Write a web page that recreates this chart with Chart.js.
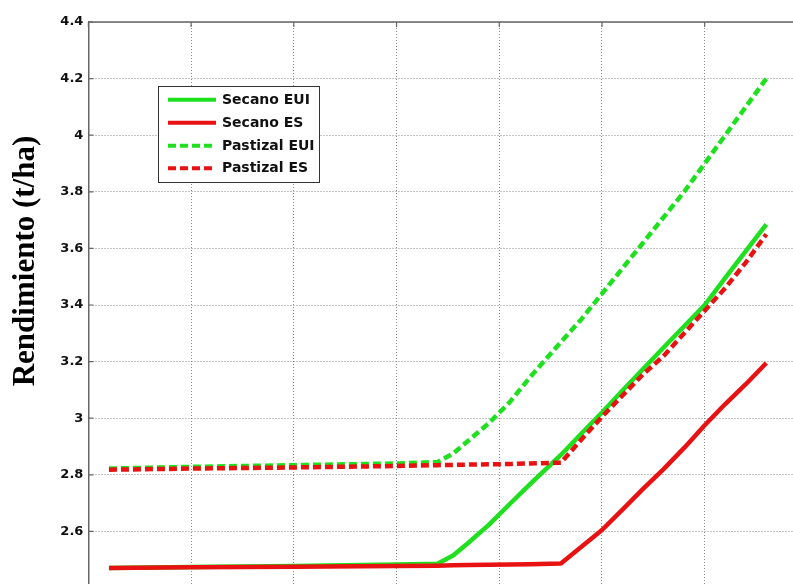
<!DOCTYPE html>
<html>
<head>
<meta charset="utf-8">
<script src="https://cdn.jsdelivr.net/npm/chart.js@4/dist/chart.umd.min.js"></script>
<style>
  html, body { margin: 0; padding: 0; background: #fff; overflow: hidden; width: 793px; height: 584px; }
  #wrap { position: absolute; left: 0; top: 0; width: 840px; height: 640px; }
</style>
</head>
<body>
<div id="wrap"><canvas id="chart" width="840" height="640"></canvas></div>
<script>
// Sample positions along the horizontal axis
const xPositions = [0.2, 1, 2, 3, 3.4, 3.55, 3.7, 3.9, 4.1, 4.3, 4.6, 4.8, 5.0, 5.2, 5.4, 5.6, 5.8, 6.0, 6.2, 6.4, 6.6];

// Yield (t/ha) for each scenario
const secanoEUI   = [2.471, 2.474, 2.478, 2.483, 2.486, 2.515, 2.560, 2.624, 2.696, 2.767, 2.870, 2.946, 3.020, 3.098, 3.174, 3.250, 3.325, 3.400, 3.496, 3.590, 3.685];
const secanoES    = [2.471, 2.473, 2.475, 2.478, 2.479, 2.480, 2.481, 2.482, 2.483, 2.484, 2.487, 2.546, 2.605, 2.677, 2.750, 2.820, 2.895, 2.975, 3.050, 3.120, 3.195];
const pastizalEUI = [2.822, 2.828, 2.834, 2.840, 2.845, 2.875, 2.921, 2.983, 3.056, 3.145, 3.269, 3.350, 3.440, 3.530, 3.620, 3.710, 3.800, 3.900, 4.000, 4.100, 4.200];
const pastizalES  = [2.818, 2.822, 2.826, 2.831, 2.834, 2.835, 2.836, 2.837, 2.838, 2.840, 2.843, 2.925, 3.005, 3.080, 3.155, 3.220, 3.300, 3.380, 3.460, 3.550, 3.650];

const seriesNames = ['Secano EUI', 'Secano ES', 'Pastizal EUI', 'Pastizal ES'];
const yTickValues = [2.6, 2.8, 3, 3.2, 3.4, 3.6, 3.8, 4, 4.2, 4.4];
const yAxisTitle = 'Rendimiento (t/ha)';

const GREEN = '#1fe01f';
const RED = '#e81212';
const DASH = [8, 4];

const toPoints = ys => ys.map((y, i) => ({ x: xPositions[i], y }));

// Boxed legend drawn inside the plot area, with line samples
const boxLegend = {
  id: 'boxLegend',
  afterDatasetsDraw(chart) {
    const ctx = chart.ctx;
    const bx = 158.5, by = 86.5, bw = 161, bh = 96;
    ctx.save();
    ctx.fillStyle = '#fff';
    ctx.fillRect(bx, by, bw, bh);
    ctx.strokeStyle = '#333';
    ctx.lineWidth = 1;
    ctx.strokeRect(bx, by, bw, bh);
    const rows = [99.7, 122.7, 145.7, 168.3];
    chart.data.datasets.forEach((ds, i) => {
      const y = rows[i];
      ctx.beginPath();
      ctx.setLineDash(ds.borderDash || []);
      ctx.strokeStyle = ds.borderColor;
      ctx.lineWidth = 4;
      ctx.lineCap = 'butt';
      ctx.moveTo(168, y);
      ctx.lineTo(216, y);
      ctx.stroke();
      ctx.setLineDash([]);
      ctx.fillStyle = '#111';
      ctx.font = 'bold 14px "DejaVu Sans"';
      ctx.textAlign = 'left';
      ctx.textBaseline = 'middle';
      ctx.fillText(ds.label, 222, y + 0.5);
    });
    ctx.restore();
  }
};

// Top frame line, inward tick marks and the rotated axis title
const frame = {
  id: 'frame',
  afterDraw(chart) {
    const ctx = chart.ctx;
    const a = chart.chartArea;
    const xs = chart.scales.x, ys = chart.scales.y;
    ctx.save();
    ctx.strokeStyle = '#666';
    ctx.lineWidth = 1.5;
    ctx.beginPath();
    ctx.moveTo(a.left, a.top);
    ctx.lineTo(a.right, a.top);
    ctx.stroke();
    ctx.lineWidth = 1.2;
    ctx.beginPath();
    ys.ticks.forEach(t => {
      const py = ys.getPixelForValue(t.value);
      ctx.moveTo(a.left, py);
      ctx.lineTo(a.left + 5, py);
    });
    xs.ticks.forEach(t => {
      const px = xs.getPixelForValue(t.value);
      ctx.moveTo(px, a.top);
      ctx.lineTo(px, a.top + 5);
    });
    ctx.stroke();

    ctx.translate(26, 261);
    ctx.rotate(-Math.PI / 2);
    ctx.fillStyle = '#000';
    ctx.font = 'bold 31px "Liberation Serif"';
    ctx.textAlign = 'center';
    ctx.textBaseline = 'middle';
    ctx.fillText(yAxisTitle, 0, 0);
    ctx.restore();
  }
};

const common = { fill: false, tension: 0, pointRadius: 0, borderWidth: 4.5, borderCapStyle: 'butt', borderJoinStyle: 'round' };

new Chart(document.getElementById('chart'), {
  type: 'line',
  data: {
    datasets: [
      { ...common, label: seriesNames[0], data: toPoints(secanoEUI),   borderColor: GREEN, order: 3 },
      { ...common, label: seriesNames[1], data: toPoints(secanoES),    borderColor: RED,   order: 2 },
      { ...common, label: seriesNames[2], data: toPoints(pastizalEUI), borderColor: GREEN, borderDash: DASH, order: 1 },
      { ...common, label: seriesNames[3], data: toPoints(pastizalES),  borderColor: RED,   borderDash: DASH, order: 0 }
    ]
  },
  options: {
    responsive: false,
    devicePixelRatio: 1,
    animation: false,
    layout: { padding: { left: 0, top: 22, right: 32.6, bottom: 0 } },
    plugins: { legend: { display: false }, tooltip: { enabled: false } },
    scales: {
      x: {
        type: 'linear',
        min: 0, max: 7,
        ticks: { display: false, stepSize: 1 },
        grid: { color: 'rgba(110,110,110,0.8)', lineWidth: 1, drawTicks: false },
        border: { display: true, color: '#666', width: 1.5, dash: [1, 2] },
        afterFit(s) { s.height = 52; }
      },
      y: {
        min: 2.4, max: 4.4,
        afterBuildTicks(s) { s.ticks = yTickValues.map(v => ({ value: v })); },
        ticks: {
          padding: 5,
          color: '#111',
          font: { family: '"DejaVu Sans"', size: 13, weight: 'bold' },
          callback: v => String(Math.round(v * 10) / 10)
        },
        grid: { color: 'rgba(110,110,110,0.8)', lineWidth: 1, drawTicks: false },
        border: { display: true, color: '#666', width: 1.5, dash: [1, 2] },
        afterFit(s) { s.width = 88.4; }
      }
    }
  },
  plugins: [boxLegend, frame]
});
</script>
</body>
</html>
